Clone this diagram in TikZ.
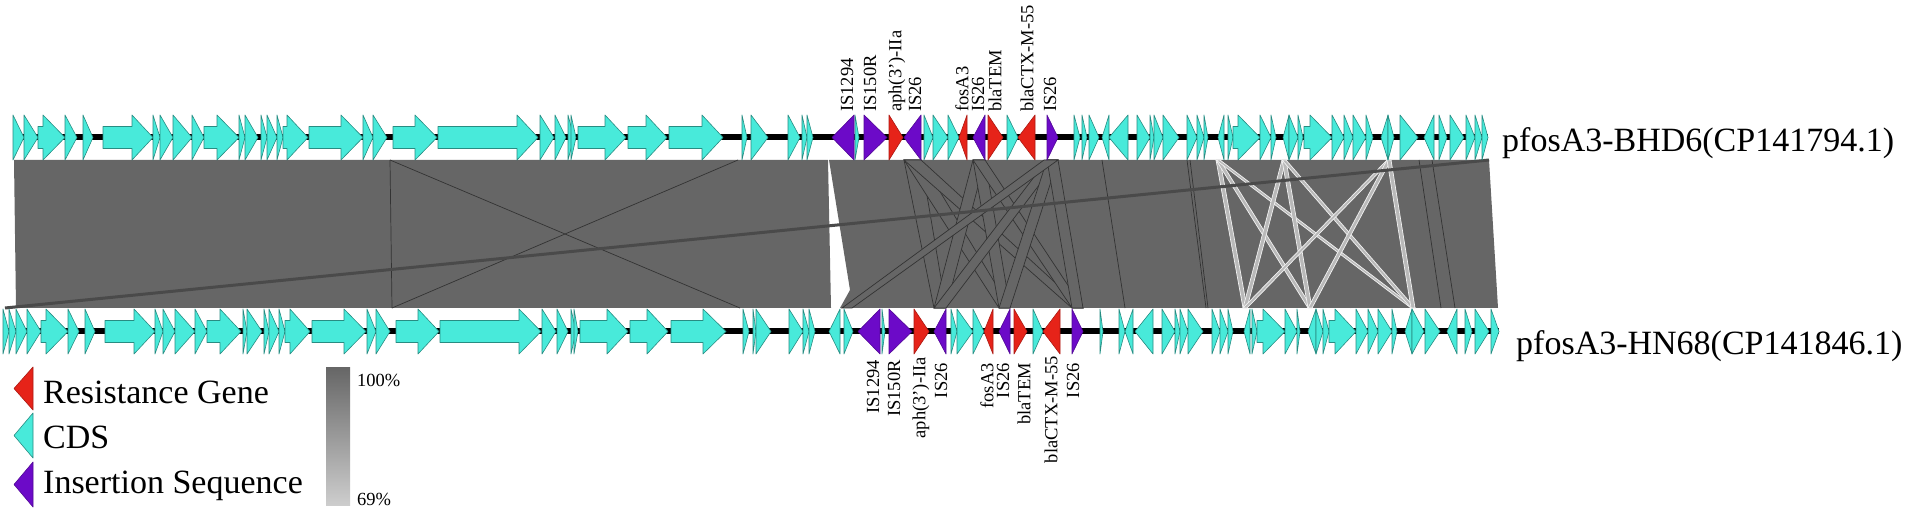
\documentclass[tikz,border=0pt]{standalone}
\usepackage{fontspec}
\setmainfont{Liberation Serif}
\definecolor{cdsfill}{RGB}{72,234,218}
\definecolor{cdsline}{RGB}{40,140,130}
\definecolor{resfill}{RGB}{230,35,25}
\definecolor{isfill}{RGB}{108,10,200}
\definecolor{bandgray}{RGB}{102,102,102}
\definecolor{diagline}{RGB}{74,74,74}
\definecolor{scaletop}{RGB}{102,102,102}
\definecolor{scalebot}{RGB}{205,205,205}
\begin{document}
\begin{tikzpicture}[x=1pt,y=-1pt,
    cds/.style={fill=cdsfill,draw=cdsline,line width=0.6pt,line join=round},
    resgene/.style={fill=resfill,draw=resfill!75!black,line width=0.6pt,line join=round},
    isseq/.style={fill=isfill,draw=isfill!75!black,line width=0.6pt,line join=round},
    backbone/.style={line width=6pt,black},
    match/.style={fill=bandgray},
    hitline/.style={draw=black!80,line width=0.7pt},
    weakhit/.style={fill=gray!55,draw=white!90!gray,line width=0.7pt},
    genelabel/.style={rotate=90,inner sep=0pt,font=\fontsize{18.5}{20}\selectfont},
    tracklabel/.style={inner sep=0pt,font=\fontsize{34}{38}\selectfont},
    legendlabel/.style={inner sep=0pt,font=\fontsize{34}{38}\selectfont},
    scalelabel/.style={inner sep=0pt,font=\fontsize{18.5}{20}\selectfont}]
    \useasboundingbox (0,0) rectangle (1908,510);

    % alignment band
    \fill[match] (14,160) -- (828,160) -- (831,308) -- (16,308) -- cycle;
    \fill[match] (829,160) -- (1489,160) -- (1498,308) -- (840,308) -- (850,290) -- cycle;
    \draw[hitline] (390,160) -- (392,308);
    \draw[hitline] (390,160) -- (740,308);
    \draw[hitline] (738,160) -- (392,308);
    \foreach \ta/\tb in {904/921,973/985,1047/1058}
      \foreach \ba/\bb in {934/946,999/1010,1072/1083}
        \filldraw[match,hitline] (\ta,160) -- (\tb,160) -- (\bb,308) -- (\ba,308) -- cycle;
    \filldraw[match,hitline] (1044,160) -- (1058,160) -- (852,308) -- (842,308) -- cycle;
    \draw[hitline] (1102,160) -- (1125,308);
    \draw[hitline] (1187,160) -- (1206,308);
    \draw[hitline] (1190,160) -- (1208,308);
    \draw[hitline,draw=black!60] (1333,160) -- (1351,308);
    \draw[hitline] (1419,160) -- (1441,308);
    \draw[hitline] (1432,160) -- (1455,308);
    \foreach \ta in {1216,1282,1387}
      \foreach \ba in {1243,1308,1411}
        \filldraw[weakhit] (\ta,160) -- ({\ta+4},160) -- ({\ba+4},308) -- (\ba,308) -- cycle;
    \draw[line width=3pt,diagline] (5,308) -- (1489,160);

    % pfosA3-BHD6
    \draw[backbone] (13,137.5) -- (1488,137.5);
    \foreach \t/\b/\p in {13/13/24,24/24/38,38/43/65,65/65/77,83/83/93,103/132/153,153/153/160,
      160/160/173,173/173/192,192/192/204,204/217/239,239/239/245,245/245/258,261/261/267,
      267/267/277,277/277/283,283/287/308,309/341/363,363/363/373,373/373/387,393/415/437,
      438/517/538,540/540/554,555/555/566,568/568/574,571/571/576,578/605/626,628/646/667,
      669/702/723,742/742/747,751/751/768,788/788/800,802/802/807,807/807/813,855/855/859,
      924/924/933,933/933/948,948/948/959,1007/1007/1018,1074/1074/1080,1082/1082/1087,
      1089/1089/1099,1109/1109/1102,1128/1128/1109,1137/1137/1150,1150/1150/1154,
      1154/1154/1163,1163/1163/1179,1187/1187/1197,1197/1197/1204,1204/1204/1208,
      1224/1224/1218,1228/1228/1233,1233/1238/1260,1260/1260/1271,1271/1271/1276,
      1289/1289/1283,1289/1289/1298,1298/1298/1303,1304/1310/1332,1332/1332/1344,
      1344/1344/1353,1353/1353/1366,1366/1366/1373,1388/1388/1381,1388/1388/1394,
      1400/1400/1418,1434/1434/1424,1439/1439/1447,1450/1450/1464,1466/1466/1475,
      1475/1475/1482,1482/1482/1488}
      \draw[cds] (\t,126.5) -- (\b,126.5) -- (\b,115) -- (\p,137.5) -- (\b,160) -- (\b,148.5) -- (\t,148.5) -- cycle;
    \foreach \t/\p in {889/903,967/959,988/1003,1035/1018}
      \draw[resgene] (\t,115) -- (\p,137.5) -- (\t,160) -- cycle;
    \foreach \t/\p in {854/832,864/887,921/904,985/973,1047/1058}
      \draw[isseq] (\t,115) -- (\p,137.5) -- (\t,160) -- cycle;

    \node[genelabel,anchor=west] (top-is1294) at (847,112) {IS1294};
    \node[genelabel,anchor=west] (top-is150r) at (870,112) {IS150R};
    \node[genelabel,anchor=west] (top-aph) at (897,112) {aph(3')-IIa};
    \node[genelabel,anchor=west] (top-is26a) at (915,112) {IS26};
    \node[genelabel,anchor=west] (top-fosa3) at (962,112) {fosA3};
    \node[genelabel,anchor=west] (top-is26b) at (978,112) {IS26};
    \node[genelabel,anchor=west] (top-blatem) at (995,112) {blaTEM};
    \node[genelabel,anchor=west] (top-blactx) at (1027,112) {blaCTX-M-55};
    \node[genelabel,anchor=west] (top-is26c) at (1050,112) {IS26};
    \node[tracklabel,anchor=base west] (bhd6) at (1502,152) {pfosA3-BHD6(CP141794.1)};

    % pfosA3-HN68
    \draw[backbone] (3,331.5) -- (1499,331.5);
    \foreach \t/\b/\p in {3/3/9,9/9/16,16/16/27,27/27/41,41/46/68,68/68/79,85/85/95,105/134/155,
      155/155/163,163/163/175,175/175/195,195/195/207,207/220/241,243/243/247,247/247/262,
      264/264/269,269/269/279,279/279/285,285/290/310,312/344/366,367/367/376,376/376/390,
      396/418/439,440/519/541,542/542/556,557/557/568,571/571/576,574/574/578,580/607/628,
      630/647/668,671/703/726,743/743/749,753/753/756,756/756/771,789/789/803,803/803/809,
      809/809/815,840/840/829,844/844/853,882/882/885,951/951/957,957/957/973,973/973/984,
      1033/1033/1043,1100/1100/1103,1119/1119/1125,1133/1133/1125,1153/1153/1135,
      1162/1162/1175,1175/1175/1180,1180/1180/1188,1188/1188/1203,1212/1212/1220,
      1220/1220/1228,1228/1228/1233,1250/1250/1244,1252/1252/1257,1257/1263/1285,
      1285/1285/1297,1297/1297/1300,1316/1316/1308,1316/1316/1323,1323/1323/1329,
      1329/1335/1356,1356/1356/1368,1368/1368/1378,1378/1378/1392,1392/1392/1397,
      1412/1412/1405,1412/1412/1424,1425/1425/1440,1457/1457/1447,1465/1465/1472,
      1475/1475/1489,1491/1491/1499}
      \draw[cds] (\t,320.5) -- (\b,320.5) -- (\b,309) -- (\p,331.5) -- (\b,354) -- (\b,342.5) -- (\t,342.5) -- cycle;
    \foreach \t/\p in {914/929,993/984,1014/1027,1060/1043}
      \draw[resgene] (\t,309) -- (\p,331.5) -- (\t,354) -- cycle;
    \foreach \t/\p in {880/858,889/912,946/934,1010/999,1072/1083}
      \draw[isseq] (\t,309) -- (\p,331.5) -- (\t,354) -- cycle;

    \node[genelabel,anchor=east] (bot-is1294) at (873,360) {IS1294};
    \node[genelabel,anchor=east] (bot-is150r) at (894,360) {IS150R};
    \node[genelabel,anchor=east] (bot-aph) at (921,357) {aph(3')-IIa};
    \node[genelabel,anchor=east] (bot-is26a) at (941,363) {IS26};
    \node[genelabel,anchor=east] (bot-fosa3) at (987,363) {fosA3};
    \node[genelabel,anchor=east] (bot-is26b) at (1003,363) {IS26};
    \node[genelabel,anchor=east] (bot-blatem) at (1024,363) {blaTEM};
    \node[genelabel,anchor=east] (bot-blactx) at (1051,356) {blaCTX-M-55};
    \node[genelabel,anchor=east] (bot-is26c) at (1073,363) {IS26};
    \node[tracklabel,anchor=base west] (hn68) at (1516,355) {pfosA3-HN68(CP141846.1)};

    % legend
    \draw[resgene] (33,367) -- (14,388.5) -- (33,410) -- cycle;
    \draw[cds] (33,413) -- (14,435.5) -- (33,458) -- cycle;
    \draw[isseq] (33,462) -- (14,484.5) -- (33,507) -- cycle;
    \node[legendlabel,anchor=base west] (leg-res) at (43,403) {Resistance Gene};
    \node[legendlabel,anchor=base west] (leg-cds) at (43,448) {CDS};
    \node[legendlabel,anchor=base west] (leg-is) at (43,493) {Insertion Sequence};
    \shade[top color=scaletop,bottom color=scalebot] (326,367) rectangle (350,505);
    \node[scalelabel,anchor=base west] (scale-hi) at (357,386) {100\%};
    \node[scalelabel,anchor=base west] (scale-lo) at (357,505) {69\%};
\end{tikzpicture}
\end{document}
